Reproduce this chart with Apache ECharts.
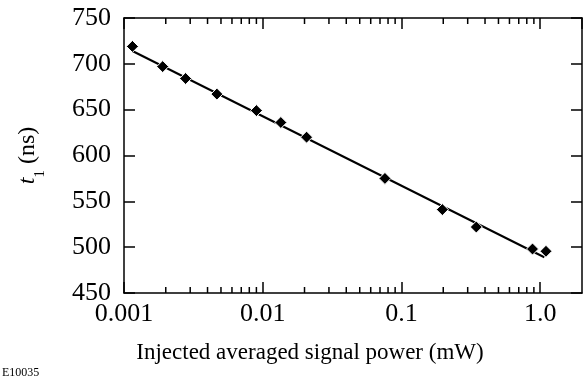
<!DOCTYPE html>
<html><head><meta charset="utf-8">
<script src="https://cdn.jsdelivr.net/npm/echarts@6/dist/echarts.min.js"></script>
<style>html,body{margin:0;padding:0;background:#fff}#c{width:586px;height:379px}</style>
</head><body><div id="c"></div>
<script>
var powerMW = [0.00115, 0.0019, 0.00278, 0.00467, 0.009, 0.0135, 0.0207, 0.076, 0.197, 0.346, 0.88, 1.10];
var t1ns = [719, 697, 684, 667, 649, 636, 620, 575, 541, 522, 498, 495.5];
var fitX = [0.00115, 1.07];
var fitY = [714, 489];
var yTicks = [450, 500, 550, 600, 650, 700, 750];
var minorX = [0.002,0.003,0.004,0.005,0.006,0.007,0.008,0.009,
              0.02,0.03,0.04,0.05,0.06,0.07,0.08,0.09,
              0.2,0.3,0.4,0.5,0.6,0.7,0.8,0.9];

var FONT = 'Liberation Serif';
var chart = echarts.init(document.getElementById('c'));
function fmtX(v){
  var r = Number(v.toPrecision(3));
  if (r === 1) return '1.0';
  return String(r);
}
var axisLine = {show:true, lineStyle:{color:'#000', width:1.5}};
var majorTick = {show:true, inside:true, length:11, lineStyle:{color:'#000', width:1.5}};
chart.setOption({
  animation:false,
  grid:{left:124, right:4, top:18, bottom:86},
  xAxis:[{
    type:'log', logBase:10, min:0.001, max:2, position:'bottom',
    axisLine:axisLine, axisTick:majorTick, splitLine:{show:false},
    axisLabel:{color:'#000', fontFamily:FONT, fontSize:26, margin:8, formatter:fmtX, showMaxLabel:false},
    name:'Injected averaged signal power (mW)', nameLocation:'middle', nameGap:48,
    nameTextStyle:{color:'#000', fontFamily:FONT, fontSize:23, padding:[0,86,0,0]}
  },{
    type:'log', logBase:10, min:0.001, max:2, position:'top',
    axisLine:axisLine, axisTick:majorTick, splitLine:{show:false}, axisLabel:{show:false}
  }],
  yAxis:[{
    type:'value', min:450, max:750, interval:50, position:'left',
    axisLine:axisLine, axisTick:majorTick, splitLine:{show:false},
    axisLabel:{color:'#000', fontFamily:FONT, fontSize:26, margin:13},
    name:'{i|t}{s|1}{n| (ns)}', nameLocation:'middle', nameGap:84, nameRotate:90,
    nameTextStyle:{color:'#000', fontFamily:FONT, fontSize:23,
      rich:{i:{fontFamily:FONT, fontStyle:'italic', fontSize:24, color:'#000'},
            s:{fontFamily:FONT, fontSize:15, color:'#000', verticalAlign:'bottom', padding:[0,0,-8,0]},
            n:{fontFamily:FONT, fontSize:24, color:'#000'}}}
  },{
    type:'value', min:450, max:750, interval:50, position:'right',
    axisLine:axisLine, axisTick:majorTick, splitLine:{show:false}, axisLabel:{show:false}
  }],
  graphic:[{type:'text', left:2, top:367, style:{text:'E10035', font:'12px "Liberation Serif"', fill:'#000'}}],
  series:[{
    type:'line', data:fitX.map(function(x,i){return [x, fitY[i]];}),
    showSymbol:false, lineStyle:{color:'#000', width:2}, silent:true
  },{
    type:'scatter', data:powerMW.map(function(x,i){return [x, t1ns[i]];}),
    symbol:'diamond', symbolSize:[12,12],
    itemStyle:{color:'#000', opacity:1, borderColor:'#fff', borderWidth:1}, z:5
  },{
    type:'scatter', clip:false, silent:true, z:6,
    data:minorX.map(function(x){return [x, 450];}),
    symbol:'rect', symbolSize:[1.5,6], symbolOffset:[0,-3], itemStyle:{color:'#000', opacity:1}
  },{
    type:'scatter', clip:false, silent:true, z:6,
    data:minorX.map(function(x){return [x, 750];}),
    symbol:'rect', symbolSize:[1.5,6], symbolOffset:[0,3], itemStyle:{color:'#000', opacity:1}
  }]
});
</script></body></html>
